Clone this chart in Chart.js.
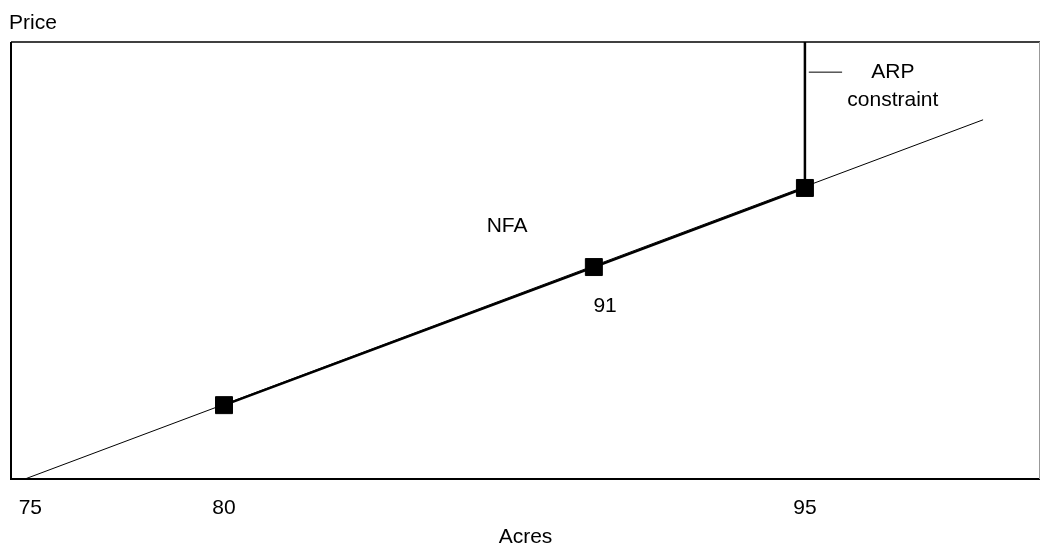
<!DOCTYPE html>
<html>
<head>
<meta charset="utf-8">
<script src="https://cdn.jsdelivr.net/npm/chart.js@4/dist/chart.umd.min.js"></script>
<style>
  html, body { margin: 0; padding: 0; background: #fff; overflow: hidden; }
  #wrap { width: 1041px; height: 550px; position: relative; }
  canvas { display: block; }
</style>
</head>
<body>
<div id="wrap"><canvas id="chart"></canvas></div>
<script>
// acres on x, price on y (price has no scale in the original, 0-100 here)
const xTicks = [75, 80, 95];
const supplyLine = [{ x: 74.86, y: 0 }, { x: 99.6, y: 82.2 }];
const nfaPath = [{ x: 80, y: 16.9 }, { x: 89.55, y: 48.5 }, { x: 95, y: 66.6 }, { x: 95, y: 100 }];
const nfaMarkers = [12, 12, 12, 0];
const leader = [{ x: 95.1, y: 93.1 }, { x: 95.96, y: 93.1 }];
const notes = [
  { text: "NFA", x: 87.31, y: 57.9 },
  { text: "91", x: 89.84, y: 39.6 },
  { text: "ARP", x: 97.27, y: 93.1 },
  { text: "constraint", x: 97.27, y: 86.6 },
];

const FONT = "'Liberation Sans', Arial, sans-serif";

const framePlugin = {
  id: "frame",
  afterDatasetsDraw(chart) {
    const { ctx, chartArea: a } = chart;
    ctx.save();
    ctx.strokeStyle = "#000";
    ctx.lineWidth = 1.5;
    ctx.beginPath();
    ctx.moveTo(a.left, a.top);
    ctx.lineTo(a.right, a.top);
    ctx.stroke();
    ctx.lineWidth = 2;
    ctx.beginPath();
    ctx.moveTo(a.left, a.top);
    ctx.lineTo(a.left, a.bottom);
    ctx.lineTo(a.right, a.bottom);
    ctx.stroke();
    ctx.strokeStyle = "#999";
    ctx.lineWidth = 1;
    ctx.beginPath();
    ctx.moveTo(a.right - 0.5, a.top);
    ctx.lineTo(a.right - 0.5, a.bottom);
    ctx.stroke();

    // text notes placed through the scales
    const xs = chart.scales.x, ys = chart.scales.y;
    ctx.fillStyle = "#000";
    ctx.font = "21px " + FONT;
    ctx.textAlign = "center";
    ctx.textBaseline = "middle";
    notes.forEach(n => ctx.fillText(n.text, xs.getPixelForValue(n.x), ys.getPixelForValue(n.y)));

    ctx.textAlign = "left";
    ctx.fillText("Price", a.left - 2, a.top - 19);
    ctx.restore();
  }
};

new Chart(document.getElementById("chart"), {
  type: "line",
  data: {
    datasets: [
      {
        data: supplyLine,
        borderColor: "#000",
        borderWidth: 1,
        pointRadius: 0,
      },
      {
        data: nfaPath,
        borderColor: "#000",
        borderWidth: 2.5,
        pointStyle: "rect",
        pointRadius: nfaMarkers,
        pointBackgroundColor: "#000",
        pointBorderColor: "#000",
        pointBorderWidth: 1,
      },
      {
        data: leader,
        borderColor: "#000",
        borderWidth: 1,
        pointRadius: 0,
      },
    ],
  },
  options: {
    responsive: true,
    maintainAspectRatio: false,
    animation: false,
    events: [],
    layout: { autoPadding: false, padding: { left: 11, right: 1, top: 42, bottom: 0 } },
    plugins: { legend: { display: false }, tooltip: { enabled: false } },
    scales: {
      x: {
        type: "linear",
        min: 74.5,
        max: 101.07,
        afterBuildTicks: scale => { scale.ticks = xTicks.map(v => ({ value: v })); },
        afterFit: scale => { scale.height = 71; scale.paddingLeft = 0; scale.paddingRight = 0; },
        grid: { display: false },
        border: { display: false },
        ticks: { color: "#000", font: { size: 21, family: FONT }, padding: 9, maxRotation: 0, autoSkip: false },
        title: { display: true, text: "Acres", color: "#000", font: { size: 21, family: FONT }, padding: { top: 0, bottom: 0 } },
      },
      y: {
        display: false,
        min: 0,
        max: 100,
      },
    },
  },
  plugins: [framePlugin],
});
</script>
</body>
</html>
